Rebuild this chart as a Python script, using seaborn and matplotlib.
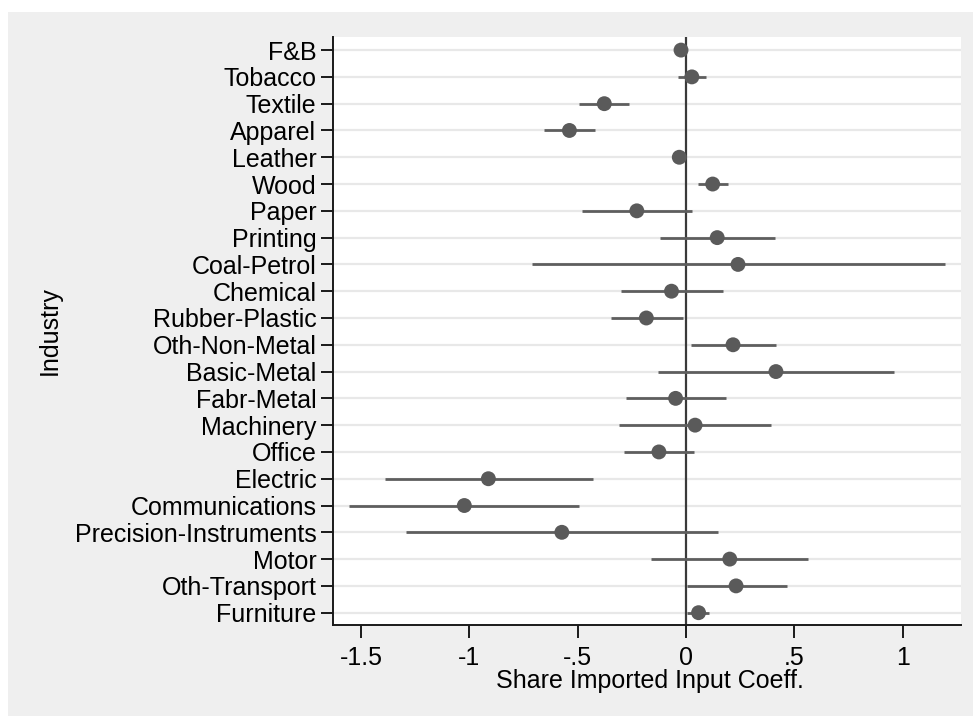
import matplotlib
matplotlib.use("Agg")
import matplotlib.pyplot as plt
from matplotlib.patches import Rectangle
import pandas as pd
import seaborn as sns

industries = [
    "F&B", "Tobacco", "Textile", "Apparel", "Leather", "Wood", "Paper",
    "Printing", "Coal-Petrol", "Chemical", "Rubber-Plastic", "Oth-Non-Metal",
    "Basic-Metal", "Fabr-Metal", "Machinery", "Office", "Electric",
    "Communications", "Precision-Instruments", "Motor", "Oth-Transport",
    "Furniture",
]
coef = [-0.023, 0.027, -0.377, -0.538, -0.031, 0.123, -0.227,
        0.144, 0.240, -0.067, -0.183, 0.217,
        0.415, -0.048, 0.042, -0.125, -0.912,
        -1.023, -0.573, 0.202, 0.231,
        0.058]
ci_low = [-0.040, -0.038, -0.492, -0.656, -0.045, 0.056, -0.481,
          -0.121, -0.712, -0.300, -0.348, 0.021,
          -0.127, -0.279, -0.308, -0.288, -1.390,
          -1.554, -1.292, -0.160, 0.004,
          0.004]
ci_high = [-0.006, 0.092, -0.262, -0.419, -0.017, 0.192, 0.029,
           0.412, 1.196, 0.169, -0.012, 0.415,
           0.958, 0.185, 0.394, 0.038, -0.429,
           -0.492, 0.148, 0.565, 0.465,
           0.108]
xtick_values = [-1.5, -1, -0.5, 0, 0.5, 1]
xtick_labels = ["-1.5", "-1", "-.5", "0", ".5", "1"]

df = pd.DataFrame({"industry": industries, "coef": coef,
                   "lo": ci_low, "hi": ci_high})

sns.set_style("white")
plt.rcParams["font.family"] = ["Liberation Sans", "DejaVu Sans"]

W, H = 973, 716
fig = plt.figure(figsize=(W / 100, H / 100), dpi=100)
fig.patch.set_facecolor("white")
fig.patches.append(Rectangle((8 / W, 0), (W - 8) / W + 0.01, (H - 12) / H,
                             transform=fig.transFigure, facecolor="#efefef",
                             edgecolor="none", zorder=-10))

left, right, top, bottom = 333, 961, 36.7, 625
ax = fig.add_axes([left / W, (H - bottom) / H, (right - left) / W, (bottom - top) / H])
ax.set_facecolor("white")

pos = list(range(len(industries)))
df["pos"] = pos

# light horizontal guide lines at each industry
for p in pos:
    ax.axhline(p, color="#e8e8e8", lw=1.6, zorder=0)

ax.axvline(0, color="#3a3a3a", lw=1.6, zorder=1)

ax.hlines(df["pos"], df["lo"], df["hi"], color="#5e5e5e", lw=2.0, zorder=2)
sns.scatterplot(data=df, x="coef", y="pos", ax=ax, s=115, color="#5a5a5a",
                edgecolor="none", zorder=3, legend=False)

ax.set_xlim(-1.629, 1.269)
ax.set_ylim(21.46, -0.5)
ax.set_yticks(pos)
ax.set_yticklabels(industries)
ax.set_xticks(xtick_values)
ax.set_xticklabels(xtick_labels)
ax.set_xlabel("")
ax.set_ylabel("")

for s in ["top", "right"]:
    ax.spines[s].set_visible(False)
for s in ["left", "bottom"]:
    ax.spines[s].set_color("#1a1a1a")
    ax.spines[s].set_linewidth(1.4)

ax.tick_params(axis="both", which="major", length=9, width=1.4, color="#1a1a1a",
               labelsize=18, labelcolor="black", direction="out")
ax.tick_params(axis="y", pad=3)
ax.tick_params(axis="x", pad=6)
ax.tick_params(left=True, bottom=True)

fig.text(650 / W, 1 - 681 / H, "Share Imported Input Coeff.", ha="center",
         va="center", fontsize=18, color="black")
fig.text(50 / W, 1 - 331 / H, "Industry", ha="center", va="center",
         rotation=90, fontsize=18, color="black")

fig.savefig("out.png", dpi=100)
